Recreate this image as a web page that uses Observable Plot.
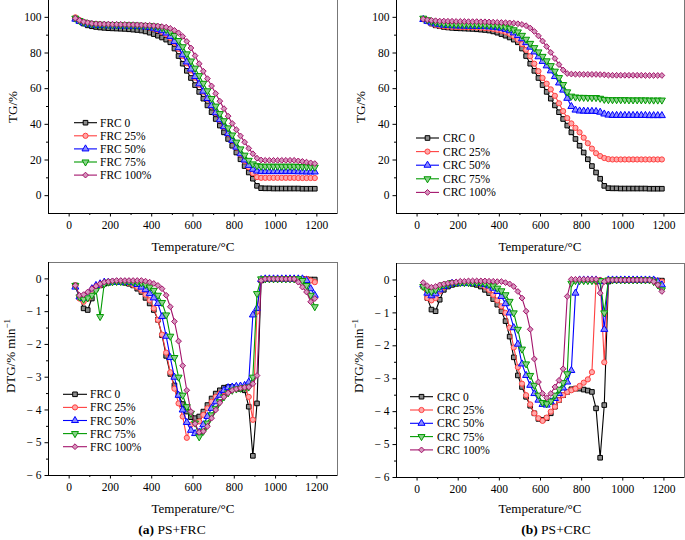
<!DOCTYPE html>
<html><head><meta charset="utf-8">
<script src="https://cdn.jsdelivr.net/npm/d3@7"></script>
<script src="https://cdn.jsdelivr.net/npm/@observablehq/plot@0.6"></script>
<style>
body{margin:0;background:#fff}
#fig{position:relative;width:685px;height:540px;overflow:hidden;background:#fff;font-family:"Liberation Serif","Times New Roman",serif;color:#000}
#fig svg{position:absolute}
.t{position:absolute;white-space:nowrap;font-size:13px;transform:translate(-50%,-50%);line-height:1}
.ty{transform:translate(-50%,-50%) rotate(-90deg)}
</style></head><body><div id="fig"></div><script>
// ---------- data ----------
const T = [30,50,70,90,110,130,150,170,190,210,230,250,270,290,310,330,350,370,390,410,430,450,470,490,510,530,550,570,590,610,630,650,670,690,710,730,750,770,790,810,830,850,870,890,910,930,950,970,990,1010,1030,1050,1070,1090,1110,1130,1150,1170,1190];

const tg0 = [99.2,97.8,96.5,95.5,95.0,94.6,94.3,94.1,93.9,93.8,93.7,93.6,93.5,93.3,93.1,92.9,92.6,92.1,91.4,90.6,89.7,88.7,87.5,86.0,82.5,78.3,74.0,70.0,66.0,62.0,58.2,54.4,50.6,46.8,43.0,39.3,35.5,31.8,28.0,24.2,20.4,16.6,13.0,9.5,5.5,4.2,4.1,4.1,4.0,4.0,4.0,4.0,4.0,4.0,4.0,3.9,3.9,3.9,3.9];
const tgF25 = [100.0,98.5,97.4,96.8,96.4,96.2,96.0,95.9,95.8,95.7,95.6,95.5,95.4,95.3,95.2,95.1,94.9,94.6,94.2,93.6,92.8,91.8,90.4,88.5,85.8,82.3,78.3,74.2,70.2,66.2,62.2,58.3,54.3,50.3,46.4,42.5,38.6,34.7,30.9,27.0,23.2,19.5,15.9,12.6,10.4,10.0,10.0,10.0,10.0,10.0,10.0,10.0,10.0,10.0,9.9,9.9,9.9,9.9,9.9];
const tgF50 = [99.0,97.8,96.8,96.2,95.8,95.6,95.5,95.4,95.3,95.3,95.2,95.2,95.1,95.1,95.0,94.9,94.8,94.6,94.3,93.9,93.3,92.5,91.2,89.3,86.5,83.0,79.0,75.0,71.0,66.8,62.7,58.6,54.5,50.5,46.5,42.6,38.7,34.8,31.0,27.2,23.5,20.0,17.0,14.8,13.8,13.5,13.5,13.5,13.5,13.5,13.5,13.5,13.5,13.5,13.4,13.4,13.3,13.3,13.3];
const tgF75 = [99.5,98.2,97.3,96.8,96.4,96.2,96.1,96.0,96.0,95.9,95.9,95.8,95.8,95.7,95.7,95.6,95.5,95.4,95.3,95.1,94.8,94.2,93.2,91.8,89.8,87.0,83.5,79.5,75.5,71.5,67.3,63.0,58.8,54.5,50.2,46.0,42.0,38.0,34.0,30.0,26.2,22.7,19.8,17.8,16.8,16.5,16.5,16.5,16.5,16.5,16.5,16.5,16.5,16.5,16.4,16.3,16.2,16.1,16.0];
const tgF100 = [99.5,98.3,97.5,97.0,96.6,96.4,96.3,96.2,96.2,96.1,96.1,96.0,96.0,95.9,95.9,95.8,95.7,95.6,95.5,95.3,95.1,94.8,94.5,93.8,92.7,91.3,89.3,86.5,82.8,78.5,74.0,69.8,65.6,61.5,57.3,53.0,48.8,44.6,40.5,37.0,33.5,30.0,26.5,23.5,21.0,20.0,19.8,19.8,19.8,19.8,19.8,19.8,19.8,19.8,19.5,19.2,18.8,18.4,18.0];

const tgC25 = [99.0,97.8,96.6,95.8,95.3,95.0,94.8,94.7,94.6,94.5,94.5,94.4,94.4,94.3,94.2,94.0,93.8,93.5,93.0,92.5,91.8,90.8,89.4,87.5,85.0,81.8,78.2,74.0,69.8,66.0,62.8,59.6,56.0,51.8,47.4,43.5,40.5,38.0,35.5,32.5,29.4,26.4,23.8,22.2,21.1,20.5,20.3,20.3,20.3,20.3,20.3,20.3,20.3,20.3,20.3,20.3,20.3,20.3,20.3];
const tgC50 = [98.8,97.8,96.9,96.3,95.9,95.6,95.4,95.3,95.2,95.2,95.1,95.1,95.0,95.0,94.9,94.8,94.7,94.5,94.2,93.9,93.3,92.5,91.3,89.8,88.0,85.8,83.3,80.6,77.9,75.3,72.8,70.0,66.8,63.2,59.2,54.6,50.0,48.0,47.5,47.4,47.3,47.3,47.2,46.8,45.8,45.2,45.0,45.0,45.0,45.0,45.0,45.0,45.0,45.0,45.0,44.9,44.9,44.9,44.9];
const tgC75 = [99.5,98.6,97.8,97.2,96.8,96.5,96.3,96.2,96.1,96.1,96.0,96.0,96.0,95.9,95.9,95.8,95.7,95.6,95.4,95.1,94.6,93.9,93.0,91.8,89.9,87.7,85.4,83.0,80.6,78.1,75.6,72.9,69.8,66.2,62.3,58.2,55.8,55.3,55.1,55.1,55.0,55.0,55.0,54.6,54.0,53.8,53.8,53.8,53.8,53.8,53.7,53.7,53.7,53.7,53.7,53.6,53.6,53.6,53.6];
const tgC100 = [99.0,98.6,98.3,98.1,97.9,97.9,97.8,97.8,97.7,97.7,97.7,97.6,97.6,97.6,97.5,97.5,97.4,97.3,97.2,97.1,97.0,96.9,96.7,96.4,96.0,95.3,94.0,92.1,89.6,86.7,83.6,80.3,76.9,73.5,70.5,68.5,68.2,68.1,68.1,68.0,68.0,68.0,68.0,67.9,67.8,67.6,67.5,67.5,67.5,67.5,67.5,67.5,67.5,67.5,67.4,67.4,67.4,67.4,67.4];

const dtg0 = [-0.2,-0.55,-0.9,-0.95,-0.6,-0.3,-0.2,-0.15,-0.12,-0.1,-0.1,-0.1,-0.12,-0.15,-0.2,-0.3,-0.4,-0.58,-0.75,-0.95,-1.25,-1.72,-2.35,-2.9,-3.25,-3.55,-3.82,-4.05,-4.22,-4.25,-4.2,-4.05,-3.85,-3.65,-3.5,-3.4,-3.32,-3.3,-3.3,-3.33,-3.36,-3.4,-3.9,-5.4,-3.8,-0.05,0,0,0,0,0,0,0,0,0,0,-0.01,-0.02,-0.02];
const dF25 = [-0.2,-0.6,-0.7,-0.6,-0.4,-0.25,-0.18,-0.12,-0.1,-0.1,-0.1,-0.1,-0.1,-0.13,-0.18,-0.25,-0.35,-0.48,-0.65,-0.9,-1.25,-1.7,-2.25,-2.85,-3.35,-3.8,-4.2,-4.85,-4.45,-4.4,-4.35,-4.15,-3.95,-3.75,-3.6,-3.5,-3.42,-3.38,-3.35,-3.33,-3.32,-3.3,-3.6,-4.3,-1.0,-0.02,0,0,0,0,0,0,0,0,0,0,0,-0.05,-0.1];
const dF50 = [-0.25,-0.55,-0.6,-0.5,-0.3,-0.2,-0.15,-0.1,-0.1,-0.1,-0.1,-0.1,-0.1,-0.1,-0.12,-0.17,-0.25,-0.33,-0.45,-0.58,-0.75,-1.15,-1.75,-2.4,-3.0,-3.55,-4.0,-4.38,-4.62,-4.72,-4.68,-4.45,-4.2,-3.95,-3.75,-3.55,-3.4,-3.32,-3.3,-3.28,-3.27,-3.25,-3.15,-1.1,-0.9,-0.02,0,0,0,0,0,0,0,0,0,0,-0.05,-0.3,-0.5];
const dF75 = [-0.2,-0.55,-0.62,-0.58,-0.5,-0.35,-1.15,-0.15,-0.1,-0.09,-0.08,-0.08,-0.08,-0.08,-0.09,-0.1,-0.12,-0.17,-0.25,-0.35,-0.5,-0.72,-1.1,-1.75,-2.4,-3.0,-3.55,-3.9,-4.1,-4.4,-4.82,-4.65,-4.4,-4.15,-3.95,-3.75,-3.6,-3.48,-3.4,-3.36,-3.34,-3.32,-3.3,-3.0,-0.45,0,0,0,0,0,0,0,0,0,0,-0.05,-0.2,-0.5,-0.85];
const dF100 = [-0.2,-0.5,-0.48,-0.4,-0.3,-0.22,-0.15,-0.1,-0.08,-0.06,-0.05,-0.05,-0.05,-0.05,-0.05,-0.05,-0.05,-0.07,-0.1,-0.14,-0.2,-0.3,-0.5,-0.85,-1.3,-1.9,-2.65,-3.4,-4.05,-4.42,-4.68,-4.65,-4.5,-4.25,-4.0,-3.78,-3.6,-3.48,-3.4,-3.36,-3.33,-3.31,-3.3,-3.2,-2.95,-0.05,0,0,0,0,0,0,0,0,-0.1,-0.25,-0.4,-0.7,-0.6];

const dC25 = [-0.2,-0.55,-0.62,-0.55,-0.35,-0.22,-0.15,-0.1,-0.1,-0.1,-0.1,-0.1,-0.1,-0.1,-0.13,-0.2,-0.3,-0.45,-0.62,-0.8,-1.0,-1.45,-2.05,-2.65,-3.15,-3.5,-3.78,-4.05,-4.2,-4.28,-4.18,-4.0,-3.85,-3.65,-3.5,-3.4,-3.35,-3.3,-3.22,-3.12,-3.02,-2.8,-0.05,0,-2.5,0,0,0,0,0,0,0,0,0,0,0,0,-0.03,-0.05];
const dC50 = [-0.15,-0.4,-0.48,-0.42,-0.3,-0.2,-0.15,-0.1,-0.1,-0.1,-0.1,-0.1,-0.1,-0.1,-0.11,-0.14,-0.18,-0.25,-0.35,-0.5,-0.72,-1.0,-1.45,-1.95,-2.55,-2.9,-3.2,-3.45,-3.65,-3.78,-3.8,-3.7,-3.6,-3.45,-3.28,-3.1,-2.75,-0.4,0,0,0,0,0,-0.05,-1.5,0,0,0,0,0,0,0,0,0,0,0,0,-0.05,-0.15];
const dC75 = [-0.2,-0.3,-0.35,-0.3,-0.2,-0.15,-0.12,-0.08,-0.08,-0.08,-0.08,-0.08,-0.08,-0.08,-0.08,-0.1,-0.13,-0.18,-0.25,-0.33,-0.45,-0.65,-1.0,-1.5,-2.1,-2.55,-2.9,-3.2,-3.5,-3.72,-3.76,-3.68,-3.5,-3.32,-3.12,-2.85,-0.1,-0.02,-0.02,-0.02,-0.02,-0.02,-0.02,-0.02,-1.0,0,0,0,0,0,0,0,0,0,0,0,-0.05,-0.15,-0.3];
const dC100 = [-0.08,-0.18,-0.22,-0.2,-0.15,-0.12,-0.1,-0.08,-0.06,-0.04,-0.04,-0.03,-0.03,-0.03,-0.03,-0.03,-0.04,-0.04,-0.05,-0.05,-0.08,-0.12,-0.2,-0.35,-0.55,-0.95,-1.5,-2.4,-3.1,-3.45,-3.58,-3.45,-3.25,-3.05,-2.7,-0.5,0.02,0.02,0.02,0.02,0.02,0.02,0.02,-0.4,-0.05,0,0,0,0,0,0,0,0,0,0,0,-0.05,-0.15,-0.35];

const frcNames = ["FRC 0","FRC 25%","FRC 50%","FRC 75%","FRC 100%"];
const crcNames = ["CRC 0","CRC 25%","CRC 50%","CRC 75%","CRC 100%"];
const colors = ["#000000","#FF4040","#0000FF","#009A00","#A3146B"];

const xDomain = [-100, 1300];
const xMajor = [0,200,400,600,800,1000,1200];
const xMinor = [100,300,500,700,900,1100];
const tgDomain = [-10, 110];
const tgMajor = [0,20,40,60,80,100];
const tgMinor = [10,30,50,70,90];
const dtgDomain = [-6, 0.5];
const dtgMajor = [-6,-5,-4,-3,-2,-1,0];
const dtgMinor = [-5.5,-4.5,-3.5,-2.5,-1.5,-0.5];

// ---------- drawing ----------
const triangleDown = {
  draw(ctx, size) {
    const y = -Math.sqrt(size / (Math.sqrt(3) * 3));
    ctx.moveTo(0, -y * 2);
    ctx.lineTo(-Math.sqrt(3) * y, y);
    ctx.lineTo(Math.sqrt(3) * y, y);
    ctx.closePath();
  }
};
const symbols = [d3.symbolSquare, d3.symbolCircle, d3.symbolTriangle, triangleDown, d3.symbolDiamond2];
const R = 2.6;
const FONT = '"Liberation Serif","Times New Roman",serif';
const fig = document.getElementById("fig");

function panel(cfg) {
  const marks = [
    Plot.frame({stroke: "#777", strokeWidth: 1}),
    Plot.axisX({ticks: xMajor, tickSize: 3.5, tickPadding: 4, tickFormat: d => String(d), label: null, fontSize: 11.5}),
    Plot.axisX({ticks: xMinor, tickSize: 2, tickFormat: () => "", label: null}),
    Plot.axisY({ticks: cfg.yMajor, tickSize: 3.5, tickPadding: 3.5, tickFormat: cfg.fmt, label: null, fontSize: 11.5}),
    Plot.axisY({ticks: cfg.yMinor, tickSize: 2, tickFormat: () => "", label: null})
  ];
  cfg.values.forEach((vals, k) => {
    const rows = T.map((t, i) => ({t, v: vals[i]}));
    marks.push(Plot.line(rows, {x: "t", y: "v", stroke: colors[k], strokeWidth: 1.1}));
    marks.push(Plot.dot(rows, {x: "t", y: "v", symbol: symbols[k], r: R, stroke: colors[k], fill: "white", strokeWidth: 1}));
    marks.push(Plot.dot(rows, {x: "t", y: "v", symbol: symbols[k], r: R, stroke: "none", fill: colors[k], fillOpacity: 0.45}));
  });
  marks.push(Plot.ruleX([xDomain[0]], {stroke: "black", strokeWidth: 1}));
  marks.push(Plot.ruleY([cfg.yDomain[0]], {stroke: "black", strokeWidth: 1}));
  const svg = Plot.plot({
    width: cfg.width, height: 256,
    marginLeft: cfg.ml, marginRight: cfg.mr, marginTop: 0, marginBottom: cfg.mb,
    x: {domain: xDomain}, y: {domain: cfg.yDomain},
    style: {fontFamily: FONT, fontSize: "11.5px", color: "black", background: "transparent", overflow: "visible"},
    marks
  });
  svg.style.left = cfg.left + "px";
  svg.style.top = cfg.top + "px";
  fig.appendChild(svg);
}

const dtgFmt = d => d === 0 ? "0" : "\u2212 " + Math.abs(d);

panel({left: 0, top: -1, width: 342, ml: 48, mr: 5, mb: 42, yDomain: tgDomain, yMajor: tgMajor, yMinor: tgMinor, fmt: d => String(d), values: [tg0, tgF25, tgF50, tgF75, tgF100]});
panel({left: 342, top: -1, width: 343, ml: 54, mr: 1, mb: 42, yDomain: tgDomain, yMajor: tgMajor, yMinor: tgMinor, fmt: d => String(d), values: [tg0, tgC25, tgC50, tgC75, tgC100]});
panel({left: 0, top: 262, width: 342, ml: 48, mr: 5, mb: 43, yDomain: dtgDomain, yMajor: dtgMajor, yMinor: dtgMinor, fmt: dtgFmt, values: [dtg0, dF25, dF50, dF75, dF100]});
panel({left: 342, top: 263, width: 343, ml: 54, mr: 1, mb: 42, yDomain: dtgDomain, yMajor: dtgMajor, yMinor: dtgMinor, fmt: dtgFmt, values: [dtg0, dC25, dC50, dC75, dC100]});

// legends
const ov = d3.select(fig).append("svg").attr("width", 685).attr("height", 540)
  .style("left", "0px").style("top", "0px").style("pointer-events", "none");
function legend(names, x1, x2, tx, y0, step) {
  names.forEach((n, k) => {
    const y = y0 + k * step;
    const p = d3.symbol(symbols[k], R * R * Math.PI)();
    ov.append("line").attr("x1", x1).attr("x2", x2).attr("y1", y).attr("y2", y)
      .attr("stroke", colors[k]).attr("stroke-width", 1.1);
    ov.append("path").attr("d", p)
      .attr("transform", `translate(${(x1 + x2) / 2},${y})`)
      .attr("fill", "white").attr("stroke", colors[k]).attr("stroke-width", 1);
    ov.append("path").attr("d", p)
      .attr("transform", `translate(${(x1 + x2) / 2},${y})`)
      .attr("fill", colors[k]).attr("fill-opacity", 0.45);
    ov.append("text").attr("x", tx).attr("y", y).attr("dy", "0.35em")
      .attr("font-family", FONT).attr("font-size", 11.5).text(n);
  });
}
legend(frcNames, 74, 97, 100, 122.7, 13.1);
legend(crcNames, 416, 439, 443, 138, 13.6);
legend(frcNames, 63, 87, 90, 394.3, 13.1);
legend(crcNames, 410, 433, 437, 396.7, 13.3);

// titles
function label(html, x, y, cls, size) {
  const d = document.createElement("div");
  d.className = "t" + (cls ? " " + cls : "");
  d.style.left = x + "px"; d.style.top = y + "px";
  if (size) d.style.fontSize = size + "px";
  d.innerHTML = html;
  fig.appendChild(d);
}
label("Temperature/°C", 193, 246);
label("Temperature/°C", 540, 246);
label("Temperature/°C", 193, 508);
label("Temperature/°C", 540, 508);
label("TG/%", 12, 107, "ty");
label("TG/%", 360, 107, "ty");
label("DTG/% min<sup style='font-size:9px'>\u22121</sup>", 10, 356, "ty");
label("DTG/% min<sup style='font-size:9px'>\u22121</sup>", 358, 356, "ty");
label("<b>(a)</b> PS+FRC", 172, 530, "", 13.5);
label("<b>(b)</b> PS+CRC", 556, 530, "", 13.5);
</script></body></html>
